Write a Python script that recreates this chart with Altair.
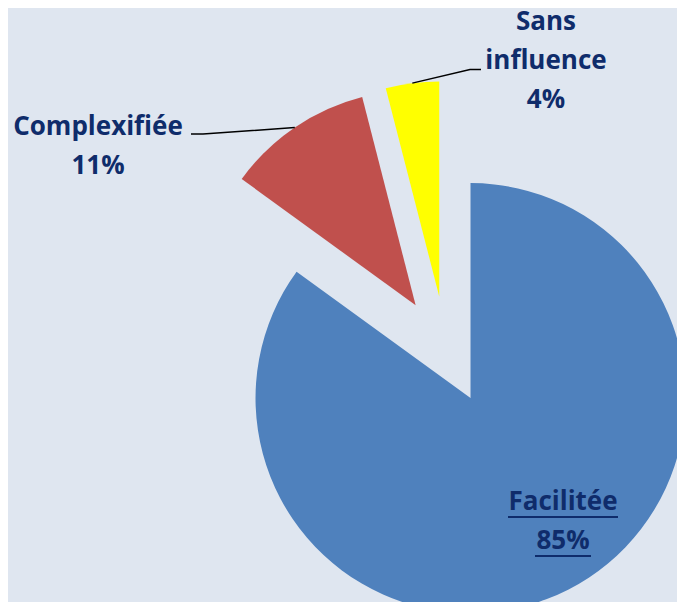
import altair as alt
import numpy as np
import pandas as pd

# ---------------- data ----------------
categories = ["Facilitée", "Complexifiée", "Sans influence"]
values = [85, 11, 4]
label_words = [["Facilitée"], ["Complexifiée"], ["Sans", "influence"]]
underlined = [True, False, False]

# ---------------- style / layout ----------------
colors = ["#4f81bd", "#c0504d", "#ffff00"]
W, H = 669, 594
CX, CY = 438, 342          # pie centre before explosion
R = 215                    # pie radius
EXPLODE = 54               # explosion distance of every slice
BG = "#dfe6f0"
TEXT = "#0f2c6b"
FONT = "Open Sans"
FS = 26
LH = 39
label_anchor = {"Facilitée": (555, 502), "Complexifiée": (90, 127), "Sans influence": (538, 22)}
leader_path = {"Complexifiée": [(195, 126), (183, 126)], "Sans influence": [(462, 61.5), (473, 61.5)]}
underline_half = {"Facilitée": 55, "85%": 28}
UL_GAP = 7

# ---------------- geometry derived from values ----------------
vals = np.array(values, dtype=float)
frac = vals / vals.sum()
ends = np.cumsum(frac) * 2 * np.pi
starts = ends - frac * 2 * np.pi
mids = (starts + ends) / 2
cx = CX + EXPLODE * np.sin(mids)
cy = CY - EXPLODE * np.cos(mids)

slices = pd.DataFrame({"cat": categories, "t0": starts, "t1": ends, "cx": cx, "cy": cy})

# text lines
txt_rows, ul_rows = [], []
for i, cat in enumerate(categories):
    ax, ay = label_anchor[cat]
    lines = label_words[i] + [f"{values[i]}%"]
    for j, line in enumerate(lines):
        y = ay + j * LH
        txt_rows.append({"t": line, "x": ax, "y": y})
        if underlined[i]:
            hw = underline_half.get(line, 30)
            ul_rows.append({"x0": ax - hw, "x1": ax + hw, "y": y + UL_GAP})
texts = pd.DataFrame(txt_rows)
ulines = pd.DataFrame(ul_rows)

# leader lines: from arc midpoint of slice to label
ld_rows = []
for i, cat in enumerate(categories):
    if cat in leader_path:
        px = cx[i] + R * np.sin(mids[i])
        py = cy[i] - R * np.cos(mids[i])
        pts = [(px, py)] + leader_path[cat]
        for k, (x, y) in enumerate(pts):
            ld_rows.append({"cat": cat, "k": k, "x": x, "y": y})
leaders = pd.DataFrame(ld_rows)

X = lambda f: alt.X(f, type="quantitative", scale=None, axis=None)
Y = lambda f: alt.Y(f, type="quantitative", scale=None, axis=None)

arcs = alt.Chart(slices).mark_arc(outerRadius=R, innerRadius=0).encode(
    x=X("cx"),
    y=Y("cy"),
    theta=alt.Theta("t0:Q", scale=None, stack=False),
    theta2="t1:Q",
    color=alt.Color("cat:N", scale=alt.Scale(domain=categories, range=colors), legend=None),
)

lead = alt.Chart(leaders).mark_line(color="black", strokeWidth=1.5).encode(
    x=X("x"), y=Y("y"), detail="cat:N", order="k:Q"
)

uline = alt.Chart(ulines).mark_rule(color=TEXT, strokeWidth=2).encode(
    x=X("x0"), x2="x1:Q", y=Y("y")
)

labels = alt.Chart(texts).mark_text(
    font=FONT, fontSize=FS, fontWeight="bold", color=TEXT, align="center", baseline="alphabetic"
).encode(x=X("x"), y=Y("y"), text="t:N")

chart = alt.layer(arcs, lead, uline, labels).properties(
    width=W, height=H, background=BG, padding=0,
    autosize=alt.AutoSizeParams(type="none"),
).configure_view(stroke=None)

chart.save("out.html", embed_options={"renderer": "svg", "actions": False})
